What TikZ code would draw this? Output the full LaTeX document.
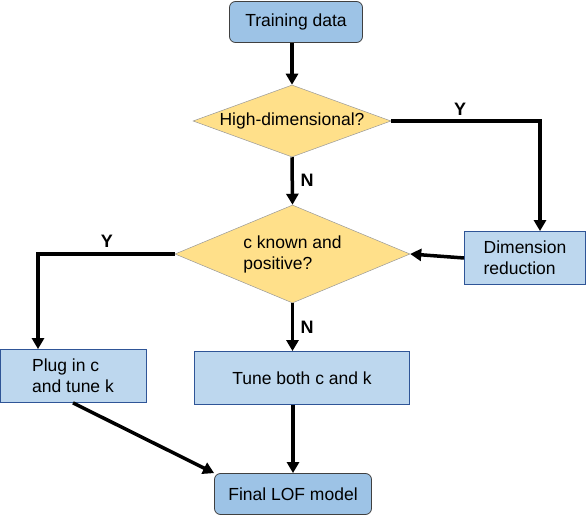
\documentclass[tikz,border=0pt]{standalone}
\usepackage{fontspec}
\setmainfont{Liberation Sans}
\usetikzlibrary{arrows.meta,shapes.geometric}
\definecolor{termblue}{HTML}{9DC3E6}
\definecolor{stepblue}{HTML}{BDD7EE}
\definecolor{stepline}{HTML}{2F5597}
\definecolor{askfill}{HTML}{FFE08A}
\begin{document}
\begin{tikzpicture}[x=1pt,y=-1pt,
    every node/.style={font=\fontsize{17.5}{21}\selectfont},
    term/.style={draw=black!75,fill=termblue,rounded corners=6pt,line width=0.8pt,inner sep=0pt},
    stepbox/.style={draw=stepline,fill=stepblue,line width=0.8pt,inner sep=0pt,align=left},
    ask/.style={diamond,draw=black!40,fill=askfill,line width=0.5pt,inner sep=0pt,aspect=2.75,align=left},
    arr/.style={line width=3.5pt,-{Triangle[length=11pt,width=12pt]}},
    yn/.style={font=\fontsize{18}{20}\selectfont\bfseries}]
    \useasboundingbox (0,0) rectangle (586,516);
    % boxes
    \node[term,minimum width=133pt,minimum height=41pt] (train) at (296,22) {Training data};
    \node[ask,minimum width=198pt,minimum height=72pt] (hd) at (292,121) {High-dimensional?};
    \node[ask,minimum width=235pt,minimum height=98pt,aspect=2.4] (ck) at (292.5,254) {c known and\\positive?};
    \node[stepbox,minimum width=121pt,minimum height=53pt] (dimred) at (525,258) {Dimension\\reduction};
    \node[stepbox,minimum width=146pt,minimum height=53pt] (plug) at (73,376) {Plug in c\\and tune k};
    \node[stepbox,minimum width=215pt,minimum height=53pt] (tune) at (302,378) {Tune both c and k};
    \node[term,minimum width=157pt,minimum height=41pt] (final) at (293,494) {Final LOF model};
    % arrows
    \draw[arr] (train.south -| hd.north) -- (hd.north);
    \draw[arr] (hd.east) -| ([xshift=15pt]dimred.north);
    \draw[arr] (hd.south) -- (ck.north);
    \draw[arr] (dimred.west) -- (ck.east);
    \draw[arr] (ck.west) -| ([xshift=-35pt]plug.north);
    \draw[arr] (ck.south) -- (ck.south |- tune.north);
    \draw[arr] (final.north |- tune.south) -- (final.north);
    \draw[arr] (plug.south) -- (final.north west);
    % labels
    \node[yn] (y1) at (460,109) {Y};
    \node[yn] (n1) at (307,180) {N};
    \node[yn] (y2) at (107,241) {Y};
    \node[yn] (n2) at (307,327) {N};
\end{tikzpicture}
\end{document}
